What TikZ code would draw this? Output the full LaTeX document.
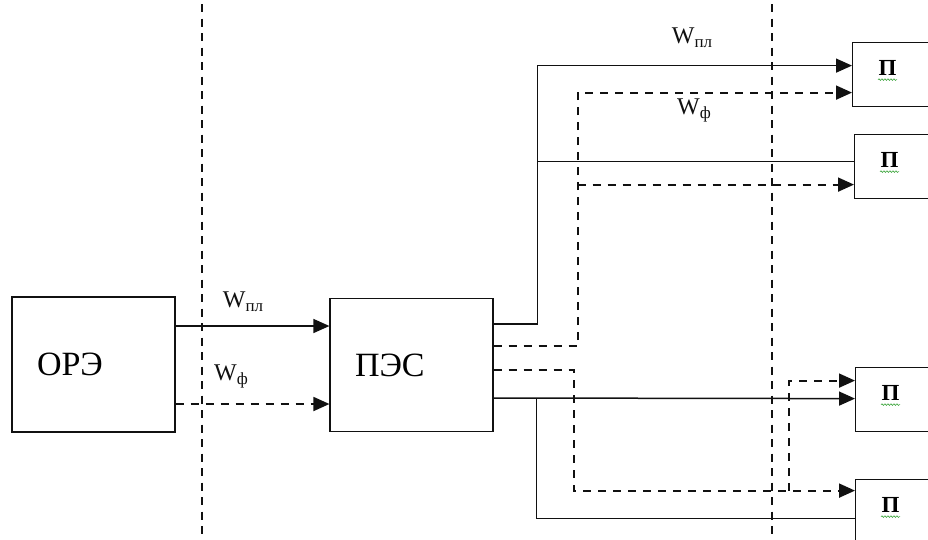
\documentclass[tikz,border=0pt]{standalone}
\usepackage{fontspec}
\setmainfont{Liberation Serif}[Extension=.ttf,UprightFont=LiberationSerif-Regular,BoldFont=LiberationSerif-Bold]
\usetikzlibrary{arrows.meta,positioning,decorations.pathmorphing}
\definecolor{ink}{HTML}{111111}
\definecolor{spell}{HTML}{3DA53D}
\newcommand{\wsub}[1]{W\raisebox{-4pt}{\fontsize{17}{17}\selectfont #1}}
\tikzset{
  block/.style={draw=ink,line width=1.2pt,minimum width=163pt,minimum height=135pt,inner xsep=25pt,text width=113pt,align=left,font=\fontsize{34}{36}\selectfont},
  sink/.style={draw=ink,line width=1.2pt,minimum width=110pt,minimum height=64pt,anchor=north west,inner xsep=26pt,text width=58pt,align=left,text depth=14pt,font=\bfseries\fontsize{23}{25}\selectfont},
  lbl/.style={font=\fontsize{24}{26}\selectfont,text=ink,inner sep=0pt},
  wire/.style={draw=ink,line width=1.4pt},
  flow/.style={-{Triangle[length=16pt,width=14pt]},draw=ink,line width=1.5pt},
  flowd/.style={-{Triangle[length=16pt,width=14pt]},draw=ink,line width=1.8pt,dash pattern=on 8pt off 7pt},
  sep/.style={draw=ink,line width=1.8pt,dash pattern=on 8pt off 6.5pt},
  squiggle/.style={draw=spell,line width=0.6pt,decorate,decoration={snake,amplitude=0.8pt,segment length=3pt}}
}
\begin{document}
\begin{tikzpicture}[x=1pt,y=-1pt]
\clip (0,0) rectangle (928,539);
\fill[white] (0,0) rectangle (928,539);
\draw[sep] (202,4)--(202,539);
\draw[sep] (772,4)--(772,539);

\node[block] (orae) at (93.5,364.5) {ОРЭ};
\node[block,minimum height=133pt] (pes) at (411.5,365) {ПЭС};
\node[sink] (p1) at (852,42) {П};
\node[sink] (p2) at (854,134) {П};
\node[sink] (p3) at (855,367) {П};
\node[sink] (p4) at (855,479) {П};
\foreach \b in {p1,p2,p3,p4} \draw[squiggle] ([xshift=26pt,yshift=-5pt]\b.west)--++(19,0);

\node[lbl] (wpl1) at (243,302) {\wsub{пл}};
\node[lbl] (wf1) at (231,376) {\wsub{ф}};
\node[lbl] (wpl2) at (692,38) {\wsub{пл}};
\node[lbl] (wf2) at (694,110) {\wsub{ф}};

\coordinate (lvl1) at (0,326); \coordinate (lvl2) at (0,404);
\draw[flow] (orae.east |- lvl1)--(pes.west |- lvl1);
\draw[flowd] (orae.east |- lvl2)--(pes.west |- lvl2);

% solid line to the upper pair
\draw[flow] ([yshift=41pt]pes.east)--++(44,0) coordinate (up1) |- ([yshift=9pt]p1.west);
\draw[wire] ([yshift=5pt]up1 |- p2.west)--([yshift=5pt]p2.west);
% dashed line to the upper pair
\draw[flowd] ([yshift=19pt]pes.east)--++(84,0) coordinate (up2) |- ([yshift=-18pt]p1.west);
\draw[flowd] ([yshift=-18pt]up2 |- p2.west)--([yshift=-18pt]p2.west);
% dashed line to the lower pair
\draw[flowd] ([yshift=-5pt]pes.east)--++(80,0) |- ([yshift=21pt]p4.west);
\draw[flowd] ([xshift=-66pt,yshift=21pt]p4.west) |- ([yshift=19pt]p3.west);
% solid line to the lower pair
\draw[flow] ([yshift=-33pt]pes.east)--([yshift=1pt]p3.west);
\draw[wire] ([yshift=-33pt]pes.east) ++(43,0) |- ([yshift=-7pt]p4.west);
\end{tikzpicture}
\end{document}
